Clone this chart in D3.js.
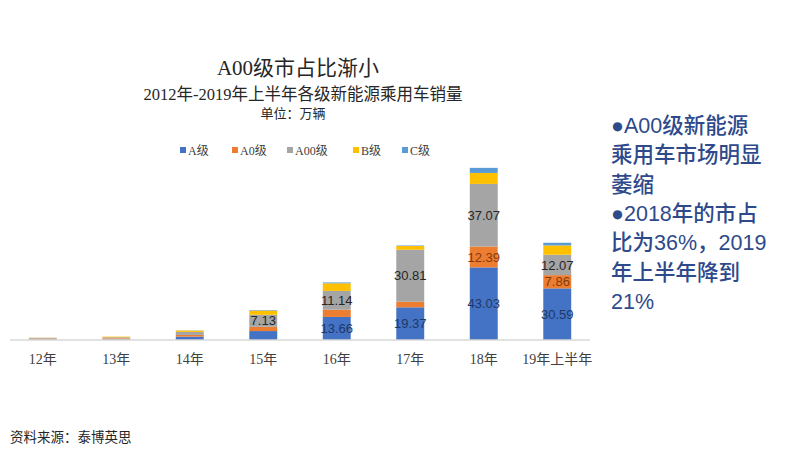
<!DOCTYPE html>
<html><head><meta charset="utf-8">
<script src="https://cdn.jsdelivr.net/npm/d3@7"></script>
<style>
body{margin:0;background:#fff;}
svg{display:block;}
</style></head>
<body>
<svg id="chart" width="800" height="450"></svg>
<script>
const categories = ["12年","13年","14年","15年","16年","17年","18年","19年上半年"];
const seriesNames = ["A级","A0级","A00级","B级","C级"];
const seriesColors = ["#4472C4","#ED7D31","#A5A5A5","#FFC000","#5B9BD5"];
const valA   = [0.3, 0.4, 2.0, 5.3, 13.66, 19.37, 43.03, 30.59];
const valA0  = [0.5, 0.6, 1.0, 2.5, 4.3, 3.3, 12.39, 7.86];
const valA00 = [0.5, 0.6, 1.8, 7.13, 11.14, 30.81, 37.07, 12.07];
const valB   = [0.1, 0.4, 0.8, 2.5, 4.5, 2.2, 6.5, 5.5];
const valC   = [0.0, 0.0, 0.1, 0.3, 0.5, 0.3, 3.0, 1.6];
const labelA   = [null,null,null,null,"13.66","19.37","43.03","30.59"];
const labelA0  = [null,null,null,null,null,null,"12.39","7.86"];
const labelA00 = [null,null,null,"7.13","11.14","30.81","37.07","12.07"];
const titleText = "A00级市占比渐小";
const subtitleText = "2012年-2019年上半年各级新能源乘用车销量";
const unitText = "单位：万辆";
const sourceText = "资料来源：泰博英思";
const noteLines = ["●A00级新能源","乘用车市场明显","萎缩","●2018年的市占","比为36%，2019","年上半年降到","21%"];

const seriesVals = [valA, valA0, valA00, valB, valC];
const seriesLabels = [labelA, labelA0, labelA00, null, null];
const labelColors = ["#1F3864","#843C0C","#262626",null,null];

const svg = d3.select("#chart");
const serif = "'Liberation Serif','Noto Sans CJK SC',serif";
const cjk = "'Noto Sans CJK SC',sans-serif";

const rows = categories.map((c,i)=>{
  const r = {cat:c};
  seriesNames.forEach((s,j)=> r[s] = seriesVals[j][i]);
  return r;
});
const stack = d3.stack().keys(seriesNames)(rows);

const x = d3.scaleBand().domain(categories).range([6, 594]).paddingInner(0.62).paddingOuter(0.31);
const y = d3.scaleLinear().domain([0, 102.5]).range([340, 167]);

const g = svg.append("g");
stack.forEach((layer,j)=>{
  g.append("g").selectAll("rect").data(layer).join("rect")
    .attr("x", d=>x(d.data.cat))
    .attr("width", x.bandwidth())
    .attr("y", d=>y(d[1]))
    .attr("height", d=>Math.max(0, y(d[0])-y(d[1])))
    .attr("fill", seriesColors[j]);
});

stack.forEach((layer,j)=>{
  if(!seriesLabels[j]) return;
  const lab = seriesLabels[j];
  g.append("g").selectAll("text").data(layer.map((d,i)=>({d, t:lab[i]})).filter(o=>o.t!==null)).join("text")
    .attr("x", o=>x(o.d.data.cat)+x.bandwidth()/2)
    .attr("y", o=>(y(o.d[0])+y(o.d[1]))/2)
    .attr("dy","0.36em")
    .attr("text-anchor","middle")
    .attr("font-family","'Liberation Sans Narrow','Liberation Sans',sans-serif")
    .attr("font-size",13)
    .attr("fill", labelColors[j])
    .text(o=>o.t);
});

const axis = svg.append("g").attr("transform","translate(0,340)")
  .call(d3.axisBottom(x).tickSize(0).tickPadding(14).tickSizeOuter(0));
axis.select(".domain").attr("stroke","#D9D9D9").attr("stroke-width",1.5)
  .attr("d","M10,0H590");
axis.selectAll("text").attr("font-family",serif).attr("font-size",14).attr("fill","#404040");

svg.append("text").attr("x",298).attr("y",75).attr("text-anchor","middle")
  .attr("font-family",serif).attr("font-size",21).attr("fill","#262626").text(titleText);
svg.append("text").attr("x",303).attr("y",100).attr("text-anchor","middle")
  .attr("font-family",serif).attr("font-size",16.5).attr("fill","#262626").text(subtitleText);
svg.append("text").attr("x",293).attr("y",118).attr("text-anchor","middle")
  .attr("font-family",serif).attr("font-size",13).attr("fill","#262626").text(unitText);

const legendX = [180, 232, 287, 353, 402];
const lg = svg.append("g");
seriesNames.forEach((s,j)=>{
  lg.append("rect").attr("x",legendX[j]).attr("y",147).attr("width",6).attr("height",6).attr("fill",seriesColors[j]);
  lg.append("text").attr("x",legendX[j]+8).attr("y",154.5)
    .attr("font-family",serif).attr("font-size",12).attr("fill","#404040").text(s);
});

const nt = svg.append("g");
noteLines.forEach((t,i)=>{
  nt.append("text").attr("x",611).attr("y",133+i*29.3)
    .attr("font-family","'Liberation Sans','Noto Sans CJK SC',sans-serif")
    .attr("font-size",21.5).attr("font-weight",500).attr("fill","#2E4A8B").text(t);
});

svg.append("text").attr("x",10).attr("y",442)
  .attr("font-family",cjk).attr("font-size",13.5).attr("fill","#262626").text(sourceText);
</script>
</body></html>
